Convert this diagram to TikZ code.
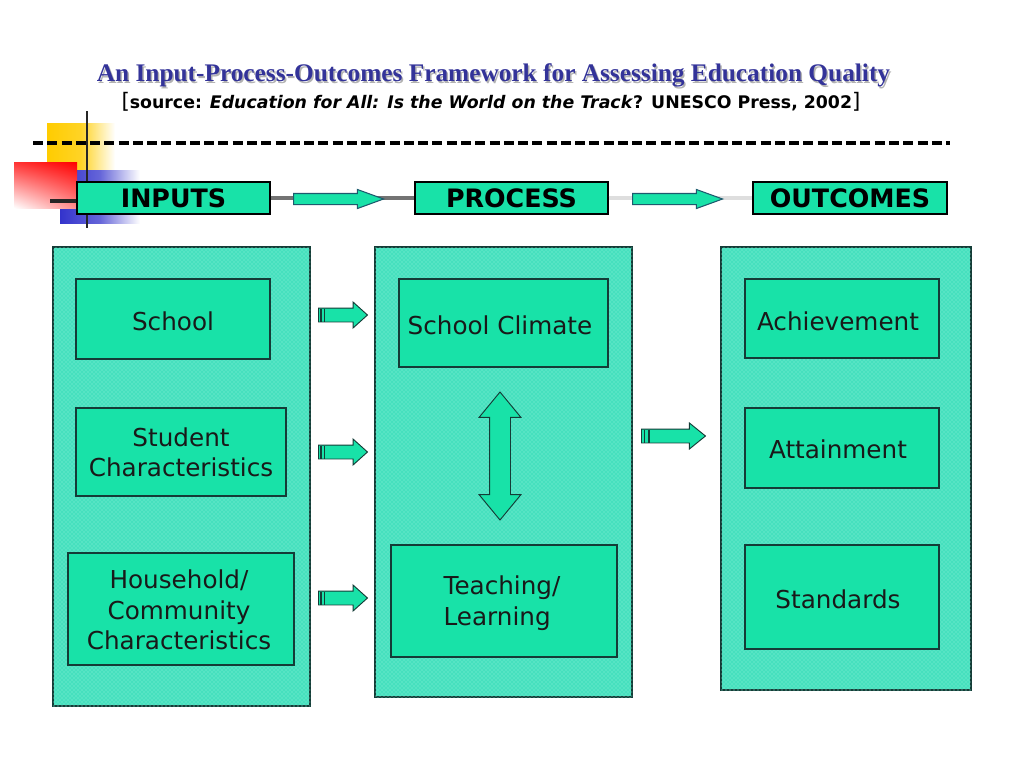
\documentclass[tikz,border=0pt]{standalone}
\usepackage{fontspec}
\setmainfont{Liberation Serif}
\newfontfamily\vfont{DejaVu Sans}
\usetikzlibrary{shapes.arrows,fit,patterns,calc,shadings}
\definecolor{boxg}{RGB}{24,226,168}
\definecolor{panelg}{RGB}{70,224,190}
\definecolor{panelp}{RGB}{140,242,220}
\definecolor{edgec}{RGB}{20,60,55}
\definecolor{navy}{RGB}{51,51,153}
\definecolor{arredge}{RGB}{30,90,110}
\definecolor{yel}{RGB}{255,204,0}
\definecolor{blu}{RGB}{51,51,204}
\begin{document}
\begin{tikzpicture}[x=0.75pt,y=-0.75pt,
  panel/.style={draw=edgec, line width=0.8pt, fill=panelg,
    postaction={pattern=crosshatch dots, pattern color=panelp}, inner sep=0pt},
  box/.style={draw=edgec, line width=0.9pt, fill=boxg, inner sep=0pt},
  lbl/.style={inner sep=0pt, font=\vfont\fontsize{18.5}{22.8}\selectfont,
    align=center, text=black!90},
  headbox/.style={draw=black, line width=0.9pt, fill=boxg, inner sep=0pt},
  headlbl/.style={font=\vfont\bfseries\fontsize{19}{22}\selectfont},
  smallarrow/.style={single arrow, draw=edgec, fill=boxg, line width=0.7pt,
    inner xsep=0pt, inner ysep=6.5*0.75pt, single arrow head extend=6*0.75pt,
    single arrow tip angle=84, anchor=tail},
  toparrow/.style={single arrow, draw=arredge, fill=boxg, line width=0.8pt,
    inner xsep=0pt, inner ysep=5*0.75pt, single arrow head extend=4*0.75pt,
    single arrow tip angle=40, minimum height=90*0.75pt, anchor=tail},
  stripe/.style={draw=edgec, line width=0.8pt},
  link/.style={line width=3pt}
]
\useasboundingbox (0,0) rectangle (1024,768);

% corner decoration
\shade[left color=yel, right color=white, middle color=yel!85] (47,123) rectangle (115,200);
\shade[left color=blu, right color=white, middle color=blu!75] (60,170) rectangle (140,223);
\shade[upper right=red, upper left=red!80, lower right=red!45, lower left=white] (14,162) rectangle (77,208);
\draw[line width=2.2pt, black!85] (87,111) -- (87,228);
\draw[line width=2.6pt, black!85] (50,201) -- (77,201);

% title
\node[font=\bfseries\fontsize{19}{21}\selectfont, text=black!30] (titleshadow) at (495,77) {An Input-Process-Outcomes Framework for Assessing Education Quality};
\node[font=\bfseries\fontsize{19}{21}\selectfont, text=navy] (title) at (493.5,75) {An Input-Process-Outcomes Framework for Assessing Education Quality};
\node[font=\vfont\bfseries\fontsize{13}{15}\selectfont] (source) at (491,102)
  {{\mdseries\fontsize{16}{16}\selectfont[}source: \textit{Education for All: Is the World on the Track}? UNESCO Press, 2002{\mdseries\fontsize{16}{16}\selectfont]}};

% dashed rule
\coordinate (ruleL) at (33,143);
\coordinate (ruleR) at (950,143);
\draw[line width=3pt, dash pattern=on 7.5pt off 3.2pt] (ruleL) -- (ruleR);

% header boxes
\node[headbox, fit={(77,182) (270,214)}] (inputs) {};
\node[headbox, fit={(415,182) (608,214)}] (process) {};
\node[headbox, fit={(753,182) (947,214)}] (outcomes) {};
\node[headlbl] (inputsT) at (inputs.center) {INPUTS};
\node[headlbl] (processT) at (process.center) {PROCESS};
\node[headlbl] (outcomesT) at (outcomes.center) {OUTCOMES};

\draw[link, draw=black!55] (inputs.east) -- (process.west);
\draw[link, draw=black!13] (process.east) -- (outcomes.west);
\node[toparrow] (a1) at (293,199) {};
\node[toparrow] (a2) at (632,199) {};

% panels
\node[panel, fit={(53,247) (310,706)}] (pin) {};
\node[panel, fit={(375,247) (632,697)}] (pproc) {};
\node[panel, fit={(721,247) (971,690)}] (pout) {};

% input boxes
\node[box, fit={(76,279) (270,359)}] (school) {};
\node[lbl] (schoolT) at (173,321) {School};
\node[box, fit={(76,408) (286,496)}] (student) {};
\node[lbl] (studentT) at (181,452) {Student\\Characteristics};
\node[box, fit={(68,553) (294,665)}] (household) {};
\node[lbl] (householdT) at (179,610) {Household/\\Community\\Characteristics};

% process boxes
\node[box, fit={(399,279) (608,367)}] (climate) {};
\node[lbl] (climateT) at (500,325) {School Climate};
\node[box, fit={(391,545) (617,657)}] (teaching) {};
\node[lbl, align=left] (teachingT) at (502,603) {Teaching/\\Learning};

% outcome boxes
\node[box, fit={(745,279) (939,358)}] (achieve) {};
\node[lbl] (achieveT) at (838,321) {Achievement};
\node[box, fit={(745,408) (939,488)}] (attain) {};
\node[lbl] (attainT) at (838,449) {Attainment};
\node[box, fit={(745,545) (939,649)}] (standards) {};
\node[lbl] (standardsT) at (838,599) {Standards};

% arrows between panels
\foreach \n/\yy in {s1/315, s2/452, s3/598}{
  \node[smallarrow, minimum height=49*0.75pt] (\n) at (318,\yy) {};
  \draw[stripe] ($(\n.tail)+(3,-6.5)$) -- ($(\n.tail)+(3,6.5)$);
  \draw[stripe] ($(\n.tail)+(6.5,-6.5)$) -- ($(\n.tail)+(6.5,6.5)$);
}
\node[smallarrow, minimum height=64*0.75pt, single arrow tip angle=78] (s4) at (641,436) {};
\draw[stripe] ($(s4.tail)+(3.5,-6.5)$) -- ($(s4.tail)+(3.5,6.5)$);
\draw[stripe] ($(s4.tail)+(8,-6.5)$) -- ($(s4.tail)+(8,6.5)$);

% double arrow between climate and teaching
\node[double arrow, shape border rotate=90, draw=edgec, fill=boxg, line width=0.7pt,
  inner sep=10*0.75pt, double arrow head extend=10.5*0.75pt,
  double arrow tip angle=79, minimum height=128*0.75pt] (dbl) at (500,456) {};
\end{tikzpicture}
\end{document}
